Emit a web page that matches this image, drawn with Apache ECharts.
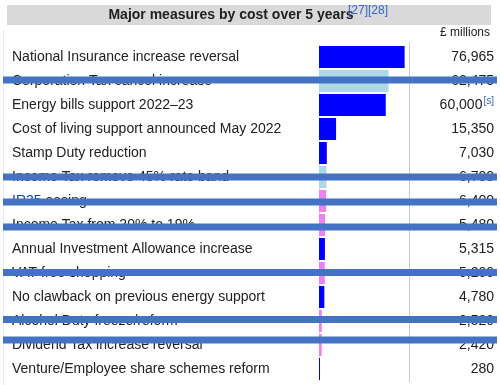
<!DOCTYPE html>
<html><head><meta charset="utf-8">
<script src="https://cdn.jsdelivr.net/npm/echarts@6/dist/echarts.min.js"></script>
<style>html,body{margin:0;padding:0;background:#fff}#c{width:500px;height:385px}</style>
</head><body><div id="c"></div>
<script>
const categories = [
  'National Insurance increase reversal',
  'Corporation Tax cancel increase',
  'Energy bills support 2022–23',
  'Cost of living support announced May 2022',
  'Stamp Duty reduction',
  'Income Tax remove 45% rate band',
  'IR35 easing',
  'Income Tax from 20% to 19%',
  'Annual Investment Allowance increase',
  'VAT-free shopping',
  'No clawback on previous energy support',
  'Alcohol Duty freeze/reform',
  'Dividend Tax increase reversal',
  'Venture/Employee share schemes reform'
];
const values = [76965, 62475, 60000, 15350, 7030, 6700, 6400, 5480, 5315, 5200, 4780, 2520, 2420, 280];
const groups = ['blue','light','blue','blue','blue','light','violet','violet','blue','violet','blue','violet','violet','blue'];
const valueNotes = ['', '', '[s]', '', '', '', '', '', '', '', '', '', '', ''];
const titleText = 'Major measures by cost over 5 years';
const titleRefs = '[27][28]';
const unitText = '£ millions';
const struckRows = [1, 5, 6, 7, 9, 11, 12];
const struckOffsets = [-1, 0, 1, 2, -0.5, -1.5, -5];

const groupColors = {blue: '#0000ff', light: '#add8e6', violet: '#ee82ee'};
const fmt = v => v.toLocaleString('en-GB');

const chart = echarts.init(document.getElementById('c'), null, {renderer: 'canvas'});
const FONT = 'Liberation Sans, Arial, sans-serif';
const gridTop = 45, rowH = 24, gridLeft = 319, gridW = 89;

const strikes = struckRows.map((r, i) => ({
  type: 'rect',
  shape: {x: 3, y: gridTop + rowH * r + rowH / 2 + struckOffsets[i] - 3.5, width: 494, height: 7},
  style: {fill: '#4472c4'},
  z: 100
}));

chart.setOption({
  animation: false,
  grid: {left: gridLeft, top: gridTop, width: gridW, height: rowH * categories.length},
  xAxis: {type: 'value', min: 0, max: 80000, show: false},
  yAxis: [
    {
      type: 'category', data: categories, inverse: true,
      axisLine: {show: true, lineStyle: {color: '#dcdcec'}},
      axisTick: {show: false},
      axisLabel: {
        align: 'left', margin: gridLeft - 12, fontFamily: FONT, fontSize: 14, color: '#202122',
        formatter: v => v.startsWith('IR35') ? '{link|IR35}{n|' + v.slice(4) + '}' : '{n|' + v + '}',
        rich: {
          n: {fontFamily: FONT, fontSize: 14, color: '#202122'},
          link: {fontFamily: FONT, fontSize: 14, color: '#0645ad'}
        }
      }
    },
    {
      type: 'category', data: values.map(fmt), inverse: true, position: 'right',
      axisLine: {show: false}, axisTick: {show: false},
      axisLabel: {
        align: 'right', margin: 494 - (gridLeft + gridW), fontFamily: FONT, fontSize: 14, color: '#202122',
        formatter: (v, i) => valueNotes[i] ? '{n|' + v + '}{sup|' + valueNotes[i] + '}' : '{n|' + v + '}',
        rich: {
          n: {fontFamily: FONT, fontSize: 14, color: '#202122'},
          sup: {fontFamily: FONT, fontSize: 10, color: '#3366cc', padding: [0, 0, 8, 1]}
        }
      }
    }
  ],
  series: [{
    type: 'bar', yAxisIndex: 0, barWidth: 22, barMinHeight: 1,
    data: values.map((v, i) => ({value: v, itemStyle: {color: groupColors[groups[i]]}}))
  }],
  graphic: [
    {type: 'rect', shape: {x: 7, y: 5, width: 484, height: 20}, style: {fill: '#d9d9d9'}, z: 1},
    {type: 'text', x: 231, y: 15, style: {text: titleText, font: 'bold 14px ' + FONT, fill: '#202122', align: 'center', verticalAlign: 'middle'}, z: 2},
    {type: 'text', x: 348, y: 11, style: {text: titleRefs, font: '12px ' + FONT, fill: '#3366cc', align: 'left', verticalAlign: 'middle'}, z: 2},
    {type: 'text', x: 490, y: 33, style: {text: unitText, font: '12px ' + FONT, fill: '#202122', align: 'right', verticalAlign: 'middle'}, z: 2},
    {type: 'line', shape: {x1: 409.5, y1: 42, x2: 409.5, y2: 382}, style: {stroke: '#c8ccd1', lineWidth: 1}, z: 1},
    {type: 'line', shape: {x1: 3.5, y1: 30, x2: 3.5, y2: 385}, style: {stroke: '#eaecf0', lineWidth: 1}, z: 1},
    ...strikes
  ]
});
</script>
</body></html>
